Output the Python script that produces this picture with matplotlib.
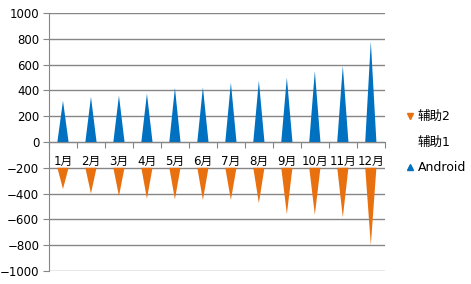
import matplotlib
matplotlib.use("Agg")
import matplotlib.pyplot as plt
from matplotlib.lines import Line2D
import numpy as np

plt.rcParams['font.family'] = ['DejaVu Sans', 'Noto Sans CJK SC']
plt.rcParams['font.size'] = 8.5

months = ['1月', '2月', '3月', '4月', '5月', '6月', '7月', '8月', '9月', '10月', '11月', '12月']
android = [320, 350, 360, 375, 420, 425, 460, 475, 500, 550, 590, 780]
aux1 = [200] * 12   # invisible spacer below zero
aux2 = [165, 200, 220, 240, 245, 250, 250, 275, 360, 365, 385, 600]

blue = '#0070C0'
orange = '#E8700F'
grid_c = '#868686'

fig = plt.figure(figsize=(4.71, 2.84), dpi=100)
ax = fig.add_axes([0.104, 0.046, 0.713, 0.908])

x = np.arange(len(months)) + 0.5
half = 0.2

# upward triangles for Android
for xi, v in zip(x, android):
    ax.fill([xi - half, xi, xi + half], [0, v, 0], color=blue, lw=0, zorder=3)

# downward triangles for 辅助2, stacked below the 辅助1 spacer
for xi, s, v in zip(x, aux1, aux2):
    top = -s
    ax.fill([xi - half, xi, xi + half], [top, top - v, top], color=orange, lw=0, zorder=3)

ax.set_xlim(0, 12)
ax.set_ylim(-1000, 1000)
ax.set_yticks(np.arange(-1000, 1001, 200))
ax.yaxis.grid(True, color=grid_c, lw=1)
ax.set_axisbelow(True)

ax.spines['top'].set_visible(False)
ax.spines['right'].set_visible(False)
ax.spines['bottom'].set_position(('data', 0))
ax.spines['bottom'].set_color(grid_c)
ax.spines['left'].set_color(grid_c)
ax.spines['bottom'].set_zorder(4)

ax.set_xticks(np.arange(0, 13))
ax.set_xticklabels([])
ax.set_xticks(x, minor=True)
ax.set_xticklabels(months, minor=True)
ax.tick_params(axis='x', which='major', direction='out', length=4, color=grid_c)
ax.tick_params(axis='x', which='minor', length=0, pad=9)
ax.tick_params(axis='y', direction='out', length=4, color=grid_c, pad=3)

handles = [
    Line2D([], [], ls='none', marker='v', color=orange, markersize=5),
    Line2D([], [], ls='none', marker='v', color='none', markersize=5),
    Line2D([], [], ls='none', marker='^', color=blue, markersize=5),
]
ax.legend(handles, ['辅助2', '辅助1', 'Android'], loc='center left',
          bbox_to_anchor=(0.84, 0.5), bbox_transform=fig.transFigure,
          frameon=False, handlelength=0.5, handletextpad=0.35, labelspacing=1.0,
          fontsize=9)

fig.savefig('out.png', dpi=100)
